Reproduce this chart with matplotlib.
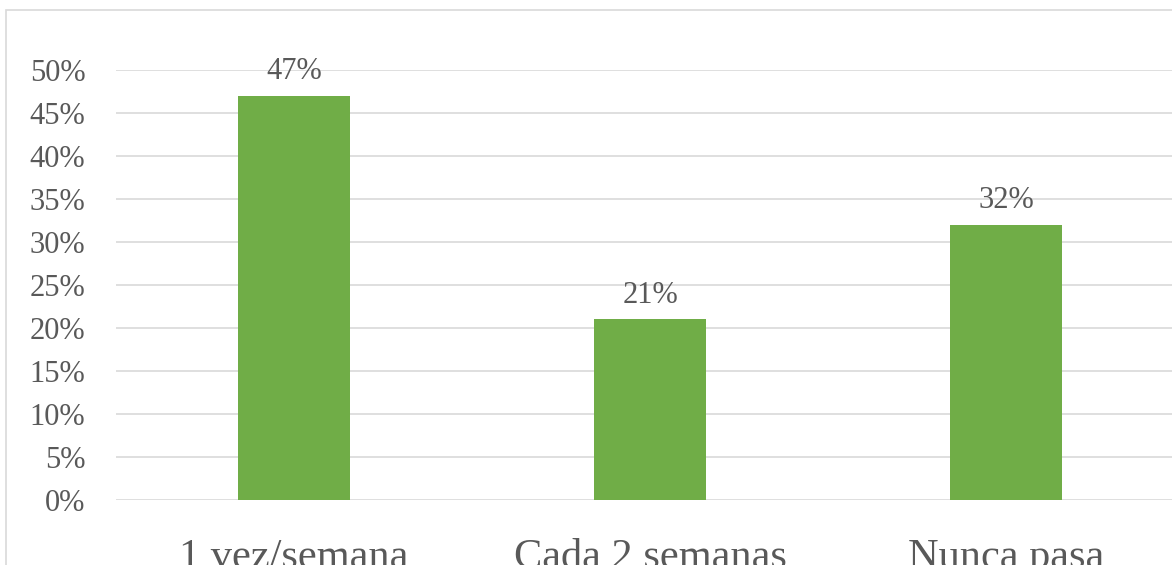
import matplotlib.pyplot as plt
from matplotlib.patches import Rectangle
from matplotlib.ticker import PercentFormatter

# Datos del gráfico
categorias = ['1 vez/semana', 'Cada 2 semanas', 'Nunca pasa']
valores = [0.47, 0.21, 0.32]
etiquetas = ['47%', '21%', '32%']
ticks_y = [i * 0.05 for i in range(11)]

gris = '#595959'
plt.rcParams['font.family'] = ['Liberation Serif', 'DejaVu Serif']

fig = plt.figure(figsize=(11.72, 5.65), dpi=100)
W, H = 1172, 565

# Borde del área del gráfico (recortado a la derecha y abajo)
fig.patches.append(Rectangle((6 / W, -0.1), 1.2, 1 - 10 / H + 0.1,
                             transform=fig.transFigure, fill=False,
                             edgecolor='#d9d9d9', linewidth=1.2))

ax = fig.add_axes([116 / W, 65 / H, (1184 - 116) / W, 430 / H])
barras = ax.bar(range(len(categorias)), valores, width=0.315, color='#70AD47', zorder=3)
ax.bar_label(barras, labels=etiquetas, padding=7, fontsize=22, color=gris)

ax.set_xlim(-0.5, len(categorias) - 0.5)
ax.set_ylim(0, 0.5)
ax.set_yticks(ticks_y)
ax.yaxis.set_major_formatter(PercentFormatter(1.0, decimals=0))
ax.set_xticks(range(len(categorias)))
ax.set_xticklabels(categorias)

ax.grid(axis='y', color='#d9d9d9', linewidth=1.2, zorder=0)
for s in ax.spines.values():
    s.set_visible(False)
ax.tick_params(axis='y', length=0, pad=22, labelsize=22, labelcolor=gris)
ax.tick_params(axis='x', length=0, pad=28, labelsize=30.5, labelcolor=gris)

fig.savefig('out.png', dpi=100)
